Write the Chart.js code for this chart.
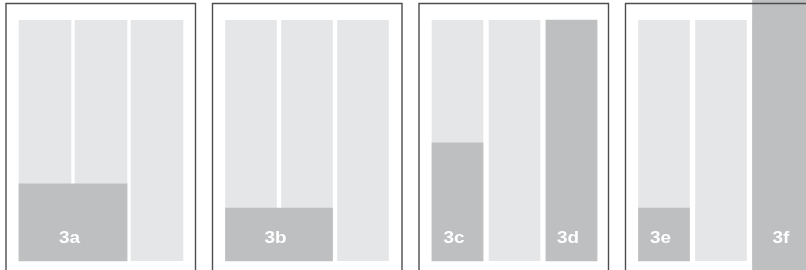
<!DOCTYPE html>
<html>
<head>
<meta charset="utf-8">
<script src="https://cdn.jsdelivr.net/npm/chart.js@4.4.1/dist/chart.umd.min.js"></script>
<style>
  html, body { margin: 0; padding: 0; background: #fff; overflow: hidden; }
  #wrap { position: relative; width: 806px; height: 270px; overflow: hidden; }
  #wrap canvas { position: absolute; top: 0; }
</style>
</head>
<body>
<div id="wrap"></div>
<script>
// three columns in every panel, each one a full-height track
const columns = [0, 1, 2];
const trackValues = [100, 100, 100];

// grey blocks laid over the tracks
const blockLabels = ['3a', '3b', '3c', '3d', '3e', '3f'];
const blockPanel = [0, 1, 2, 2, 3, 3];
const blockStart = [0, 0, 0, 2, 0, 2];   // first column covered
const blockSpan = [2, 2, 1, 1, 1, 1];    // how many columns covered
const blockLow = [0, 0, 0, 0, 0, -5];
const blockHigh = [32, 22, 49, 100, 22, 110];

// layout of the four framed panels
const frameLeft = [6, 212.5, 419, 625.5];
const frameWidth = 189.5;
const colInset = 13;
const colWidth = [52, 51, 51, 51];
const colGap = [4, 5, 6, 6];
const bleedBlock = '3f';   // this one runs off the right edge of the page
const bleedRight = 13;

const trackColor = '#e5e6e8';
const blockColor = '#bebfc1';
const frameColor = '#4d4d4d';

const wrap = document.getElementById('wrap');

const framePlugin = {
    id: 'frame',
    afterDraw(chart, args, opts) {
        const ctx = chart.ctx;
        const x0 = opts.left, x1 = opts.left + frameWidth, y0 = 3.5;
        ctx.save();
        ctx.strokeStyle = frameColor;
        ctx.lineWidth = 1.4;
        ctx.beginPath();
        ctx.moveTo(x0, chart.height + 2);
        ctx.lineTo(x0, y0);
        ctx.lineTo(x1, y0);
        ctx.lineTo(x1, chart.height + 2);
        ctx.stroke();
        ctx.restore();
    }
};

const labelPlugin = {
    id: 'blockLabels',
    afterDatasetsDraw(chart) {
        const ctx = chart.ctx;
        chart.data.datasets.forEach((ds, i) => {
            if (!ds.blockLabel) return;
            const bar = chart.getDatasetMeta(i).data[0];
            ctx.save();
            ctx.translate(bar.x - 3.5, chart.chartArea.bottom - 18);
            ctx.scale(1.18, 1);
            ctx.fillStyle = '#ffffff';
            ctx.font = 'bold 16px "Liberation Sans", Arial, sans-serif';
            ctx.textAlign = 'center';
            ctx.textBaseline = 'alphabetic';
            ctx.fillText(ds.blockLabel, 0, 0);
            ctx.restore();
        });
    }
};

frameLeft.forEach((fl, p) => {
    const w = colWidth[p], g = colGap[p];
    const canvasLeft = Math.floor(fl) - 2;
    const canvasWidth = Math.ceil(frameWidth) + 4;
    const local = fl - canvasLeft;
    const padLeft = local + colInset - g / 2;
    const padRight = canvasWidth - padLeft - 3 * (w + g);

    const canvas = document.createElement('canvas');
    canvas.width = canvasWidth;
    canvas.height = 270;
    canvas.style.left = canvasLeft + 'px';
    wrap.appendChild(canvas);

    const datasets = [];
    blockLabels.forEach((lab, b) => {
        if (blockPanel[b] !== p) return;
        const span = blockSpan[b];
        const bleed = lab === bleedBlock ? bleedRight : 0;
        datasets.push({
            blockLabel: lab,
            data: [{
                x: blockStart[b] + (span - 1) / 2 + bleed / 2 / (w + g),
                y: [blockLow[b], blockHigh[b]]
            }],
            backgroundColor: blockColor,
            barThickness: span * w + (span - 1) * g + bleed,
            grouped: false,
            clip: false
        });
    });
    datasets.push({
        data: columns.map((c, i) => ({ x: c, y: trackValues[i] })),
        backgroundColor: trackColor,
        barThickness: w,
        grouped: false
    });

    new Chart(canvas.getContext('2d'), {
        type: 'bar',
        data: { datasets: datasets },
        options: {
            responsive: false,
            animation: false,
            events: [],
            layout: { padding: { left: padLeft, right: padRight, top: 20, bottom: 9 } },
            scales: {
                x: { type: 'linear', min: -0.5, max: 2.5, offset: false, display: false },
                y: { min: 0, max: 100, display: false }
            },
            plugins: {
                legend: { display: false },
                tooltip: { enabled: false },
                frame: { left: local }
            }
        },
        plugins: [framePlugin, labelPlugin]
    });
});
</script>
</body>
</html>
